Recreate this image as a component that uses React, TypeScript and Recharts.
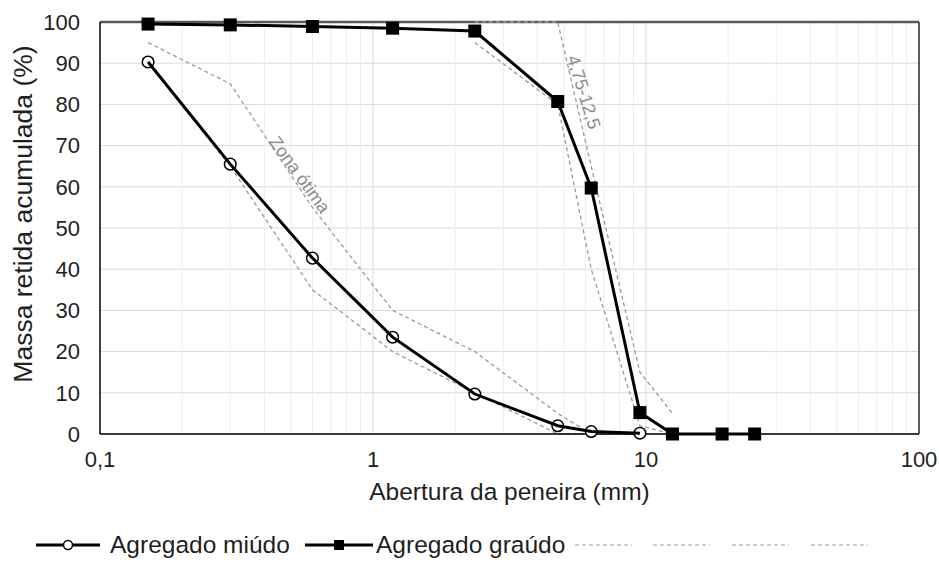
import React from "react";
import {
  ComposedChart,
  Line,
  XAxis,
  YAxis,
  CartesianGrid,
  Legend,
  ReferenceLine,
  ReferenceDot,
} from "recharts";

// sieve openings (mm)
const sieves = [0.15, 0.3, 0.6, 1.18, 2.36, 4.75, 6.3, 9.5];
const sievesCoarse = [0.15, 0.3, 0.6, 1.18, 2.36, 4.75, 6.3, 9.5, 12.5, 19, 25];
const sievesZone = [2.36, 4.75, 6.3, 9.5, 12.5];

// accumulated retained mass (%)
const miudo = [90.3, 65.5, 42.7, 23.5, 9.7, 2.0, 0.6, 0.2];
const graudo = [99.5, 99.3, 98.9, 98.5, 97.8, 80.7, 59.7, 5.2, 0, 0, 0];
const otimaInf = [90, 65, 35, 20, 10, 0, 0, 0];
const otimaSup = [95, 85, 55, 30, 20, 5, 0, 0];
const zonaInf = [95, 80, 40, 2, 0];
const zonaSup = [100, 100, 65, 15, 5];

const xTicks = [0.1, 1, 10, 100];
const yTicks = [0, 10, 20, 30, 40, 50, 60, 70, 80, 90, 100];
const majorGrid = [1, 10];
const minorGrid = [
  0.2, 0.3, 0.4, 0.5, 0.6, 0.7, 0.8, 0.9,
  2, 3, 4, 5, 6, 7, 8, 9,
  20, 30, 40, 50, 60, 70, 80, 90,
];

const toPoints = (xs: number[], ys: number[]) => xs.map((x, i) => ({ x, y: ys[i] }));

const FONT = "'Liberation Sans', Arial, sans-serif";
const LIMIT = "#9a9a9a";
const TEXT = "#1f1f1f";

const SquareDot = (props: any) => {
  const { cx, cy, index } = props;
  if (cx == null || cy == null) return null;
  return <rect key={index} x={cx - 6.5} y={cy - 6.5} width={13} height={13} fill="#000" />;
};

const CircleDot = (props: any) => {
  const { cx, cy, index } = props;
  if (cx == null || cy == null) return null;
  return <circle key={index} cx={cx} cy={cy} r={5.8} fill="#fff" stroke="#000" strokeWidth={1.5} />;
};

function LegendRow() {
  const dashes = [575, 653, 732, 811];
  return (
    <svg width={939} height={30} style={{ display: "block" }}>
      <line x1={36} x2={100} y1={15} y2={15} stroke="#000" strokeWidth={3} />
      <circle cx={68} cy={15} r={4.5} fill="#fff" stroke="#000" strokeWidth={1.5} />
      <text x={110} y={23} fontSize={24.5} fill={TEXT} fontFamily={FONT}>
        Agregado miúdo
      </text>
      <line x1={305} x2={373} y1={15} y2={15} stroke="#000" strokeWidth={3} />
      <rect x={334} y={10} width={10} height={10} fill="#000" />
      <text x={376} y={23} fontSize={24.5} fill={TEXT} fontFamily={FONT}>
        Agregado graúdo
      </text>
      {dashes.map((d) => (
        <line key={d} x1={d} x2={d + 57} y1={15} y2={15} stroke={LIMIT} strokeWidth={1.2} strokeDasharray="4 3" />
      ))}
    </svg>
  );
}

export default function App() {
  return (
    <div style={{ position: "absolute", left: 0, top: 0, background: "#fff" }}>
      <ComposedChart
        width={939}
        height={576}
        margin={{ top: 22, right: 20, left: 0, bottom: 16 }}
        style={{ fontFamily: FONT }}
      >
        <CartesianGrid vertical={false} stroke="#d9d9d9" />
        {minorGrid.map((v) => (
          <ReferenceLine key={"m" + v} x={v} stroke="#ededed" strokeWidth={1} zIndex={-60} />
        ))}
        {majorGrid.map((v) => (
          <ReferenceLine key={"M" + v} x={v} stroke="#d9d9d9" strokeWidth={1} zIndex={-50} />
        ))}
        <XAxis
          dataKey="x"
          type="number"
          scale="log"
          domain={[0.1, 100]}
          allowDataOverflow
          ticks={xTicks}
          tickFormatter={(v) => String(v).replace(".", ",")}
          tick={{ fill: TEXT, fontSize: 22 }}
          tickLine={false}
          tickSize={0}
          tickMargin={17}
          axisLine={{ stroke: "#000", strokeWidth: 1.5 }}
          height={96}
          label={{
            value: "Abertura da peneira (mm)",
            position: "insideBottom",
            offset: 30,
            fill: TEXT,
            fontSize: 24.5,
          }}
        />
        <YAxis
          type="number"
          domain={[0, 100]}
          ticks={yTicks}
          tick={{ fill: TEXT, fontSize: 22 }}
          tickLine={false}
          tickSize={0}
          tickMargin={20}
          axisLine={{ stroke: "#000", strokeWidth: 1.5 }}
          width={100}
          label={{
            value: "Massa retida acumulada (%)",
            content: ({ viewBox }: any) => {
              const x = viewBox.x + 23;
              const y = viewBox.y + viewBox.height / 2 - 14;
              return (
                <text
                  x={x}
                  y={y}
                  transform={`rotate(-90 ${x} ${y})`}
                  textAnchor="middle"
                  dominantBaseline="central"
                  fontSize={26.5}
                  fill={TEXT}
                  fontFamily={FONT}
                >
                  Massa retida acumulada (%)
                </text>
              );
            },
          }}
        />
        <ReferenceLine y={100} stroke="#595959" strokeWidth={2.5} zIndex={-40} />
        <ReferenceLine x={100} stroke="#262626" strokeWidth={1.5} zIndex={-40} />

        <Line data={toPoints(sieves, otimaInf)} dataKey="y" type="linear" stroke={LIMIT} strokeWidth={1.3} strokeDasharray="4 3" dot={false} activeDot={false} isAnimationActive={false} />
        <Line data={toPoints(sieves, otimaSup)} dataKey="y" type="linear" stroke={LIMIT} strokeWidth={1.3} strokeDasharray="4 3" dot={false} activeDot={false} isAnimationActive={false} />
        <Line data={toPoints(sievesZone, zonaInf)} dataKey="y" type="linear" stroke={LIMIT} strokeWidth={1.3} strokeDasharray="4 3" dot={false} activeDot={false} isAnimationActive={false} />
        <Line data={toPoints(sievesZone, zonaSup)} dataKey="y" type="linear" stroke={LIMIT} strokeWidth={1.3} strokeDasharray="4 3" dot={false} activeDot={false} isAnimationActive={false} />

        <Line data={toPoints(sieves, miudo)} dataKey="y" name="Agregado miúdo" type="linear" stroke="#000" strokeWidth={3} dot={<CircleDot />} activeDot={false} isAnimationActive={false} zIndex={700} />
        <Line data={toPoints(sievesCoarse, graudo)} dataKey="y" name="Agregado graúdo" type="linear" stroke="#000" strokeWidth={3} dot={<SquareDot />} activeDot={false} isAnimationActive={false} zIndex={700} />

        <ReferenceDot x={0.54} y={63} r={0} fill="none" stroke="none" label={{ value: "Zona ótima", angle: 54, position: "center", fill: "#8c8c8c", fontSize: 18 }} />
        <ReferenceDot x={5.93} y={83} r={0} fill="none" stroke="none" label={{ value: "4,75-12,5", angle: 73, position: "center", fill: "#8c8c8c", fontSize: 18 }} />

        <Legend verticalAlign="bottom" wrapperStyle={{ left: 0, width: 939 }} content={() => <LegendRow />} />
      </ComposedChart>
    </div>
  );
}
